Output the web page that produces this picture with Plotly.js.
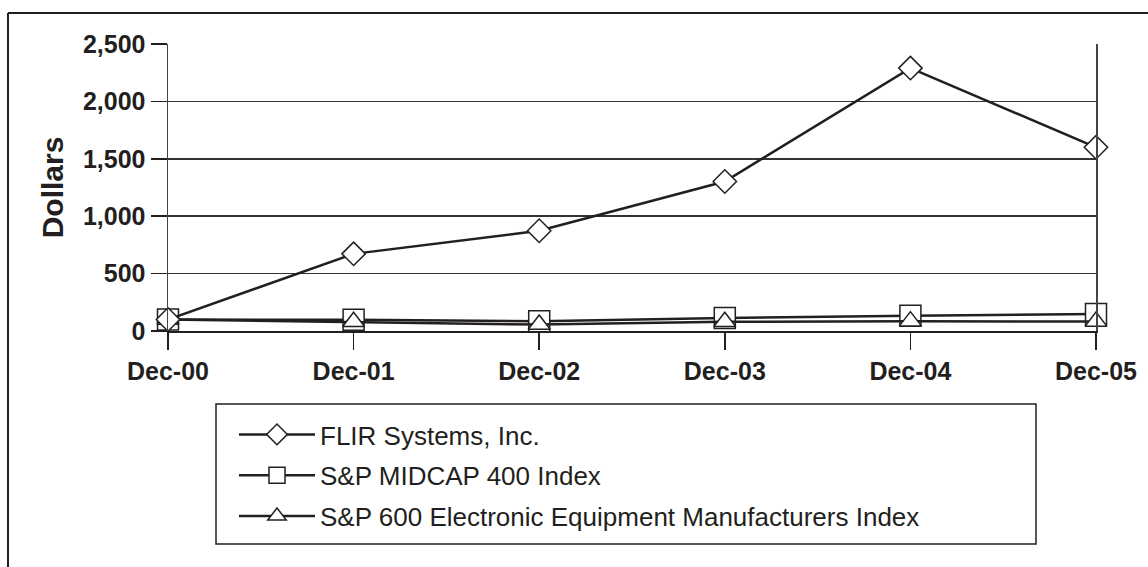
<!DOCTYPE html>
<html>
<head>
<meta charset="utf-8">
<script src="https://cdn.plot.ly/plotly-3.0.1.min.js"></script>
<style>
html,body{margin:0;padding:0;background:#fff;}
#chart{width:1148px;height:567px;}
</style>
</head>
<body>
<div id="chart"></div>
<script>
var categories = ['Dec-00','Dec-01','Dec-02','Dec-03','Dec-04','Dec-05'];
var flir = [100, 672, 873, 1302, 2290, 1600];
var midcap = [100, 98, 84, 114, 132, 148];
var electronic = [100, 80, 56, 80, 86, 82];
var seriesNames = ['FLIR Systems, Inc.', 'S&P MIDCAP 400 Index', 'S&P 600 Electronic Equipment Manufacturers Index'];
var yTicks = [0, 500, 1000, 1500, 2000, 2500];
var yTickText = ['0', '500', '1,000', '1,500', '2,000', '2,500'];

var ink = '#231f20';
var xIdx = categories.map(function(c, i){ return i; });

function tr(name, y, symbol, size, grp, rank) {
  return {
    type: 'scatter', mode: 'lines+markers', name: name,
    x: xIdx, y: y, cliponaxis: false,
    legendgroup: grp, legendrank: rank,
    line: {color: ink, width: 2.5},
    marker: {symbol: symbol, size: size, color: '#fff', line: {color: ink, width: 1.5}}
  };
}

var data = [
  tr(seriesNames[1], midcap, 'square', 21, 'b', 2),
  tr(seriesNames[2], electronic, 'triangle-up', 19, 'c', 3),
  tr(seriesNames[0], flir, 'diamond', 18, 'a', 1)
];

var L = 168, R = 52, T = 44, B = 236;
var W = 1148 - L - R, H = 567 - T - B;
function px2x(p){ return (p - L) / W; }
function py2y(p){ return (567 - B - p) / H; }

var layout = {
  width: 1148, height: 567,
  margin: {l: L, r: R, t: T, b: B, pad: 0},
  paper_bgcolor: '#fff', plot_bgcolor: '#fff',
  font: {family: 'Liberation Sans, Arial, sans-serif', color: ink},
  showlegend: true,
  xaxis: {
    range: [0, 5], tickmode: 'array', tickvals: xIdx, ticktext: categories,
    ticks: 'outside', ticklen: 17, tickwidth: 1.5, tickcolor: ink,
    showgrid: false, zeroline: false, showline: true, linecolor: ink, linewidth: 1.5,
    tickfont: {family: 'Liberation Sans, Arial, sans-serif', size: 25, color: ink, weight: 'bold'},
    fixedrange: true
  },
  yaxis: {
    range: [0, 2500], tickmode: 'array', tickvals: yTicks, ticktext: yTickText,
    ticks: 'outside', ticklen: 16, tickwidth: 1.5, tickcolor: ink,
    showgrid: true, gridcolor: '#333', gridwidth: 1.5,
    zeroline: false, showline: true, linecolor: '#444', linewidth: 1.5, mirror: true,
    tickfont: {family: 'Liberation Sans, Arial, sans-serif', size: 25, color: ink, weight: 'bold'},
    title: {text: 'Dollars', standoff: 10, font: {family: 'Liberation Sans, Arial, sans-serif', size: 30, color: ink, weight: 'bold'}},
    fixedrange: true
  },
  legend: {
    x: px2x(234), y: py2y(411), xanchor: 'left', yanchor: 'top',
    bgcolor: 'rgba(0,0,0,0)', borderwidth: 0,
    font: {family: 'Liberation Sans, Arial, sans-serif', size: 26, color: ink},
    itemwidth: 76, traceorder: 'grouped', tracegroupgap: 4
  },
  shapes: [
    {type: 'rect', xref: 'paper', yref: 'paper', x0: px2x(216), x1: px2x(1036), y0: py2y(404), y1: py2y(544), line: {color: ink, width: 1.5}},
    {type: 'line', xref: 'paper', yref: 'paper', x0: px2x(8), x1: px2x(1160), y0: py2y(13), y1: py2y(13), line: {color: ink, width: 2}},
    {type: 'line', xref: 'paper', yref: 'paper', x0: px2x(8), x1: px2x(8), y0: py2y(13), y1: py2y(580), line: {color: ink, width: 2}}
  ]
};

Plotly.newPlot('chart', data, layout, {displayModeBar: false, staticPlot: true});
</script>
</body>
</html>
